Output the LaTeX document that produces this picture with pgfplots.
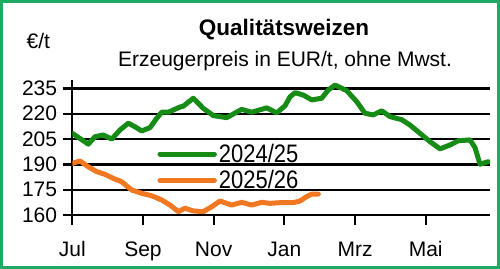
\documentclass[border=0pt]{standalone}
\usepackage{pgfplots}
\pgfplotsset{compat=1.18}
\usepackage{fontspec}
\setmainfont{Liberation Sans}
\definecolor{frame}{RGB}{30,170,100}
\definecolor{gline}{RGB}{22,140,22}
\definecolor{oline}{RGB}{240,120,32}
\begin{document}
\begin{tikzpicture}
\useasboundingbox (0,0) rectangle (500bp,-269bp);
\fill[white] (0,0) rectangle (500bp,-269bp);
\draw[frame, line width=3bp] (1.5bp,-1.5bp) rectangle (498.5bp,-267.5bp);
\node[anchor=base, inner sep=0pt, font=\fontsize{21bp}{25bp}\selectfont] at (38.3bp,-48.3bp) {€/t};
\node[anchor=base, inner sep=0pt, font=\fontsize{22.5bp}{27bp}\selectfont\bfseries] at (284bp,-35bp) {Qualitätsweizen};
\node[anchor=base, inner sep=0pt, font=\fontsize{21bp}{25bp}\selectfont] at (285bp,-66.7bp) {Erzeugerpreis in EUR/t, ohne Mwst.};
\begin{axis}[
  at={(72.3bp,-215bp)}, anchor=south west,
  scale only axis, width=417.7bp, height=135bp,
  xmin=0, xmax=11.82, ymin=160, ymax=240,
  axis x line*=bottom, axis y line*=left,
  axis line style={-, black, line width=2.3bp},
  xtick={0,2,4,6,8,10},
  xticklabels={Jul,Sep,Nov,Jan,Mrz,Mai},
  ytick={160,175,190,205,220,235},
  ymajorgrids,
  grid style={black, line width=2.3bp},
  tick align=outside,
  major tick length=9.5bp,
  tick style={black, line width=2.3bp},
  /pgf/number format/assume math mode=true,
  tick label style={font=\fontsize{21bp}{25bp}\selectfont, inner sep=0pt},
  yticklabel style={anchor=east, xshift=-5.5bp},
  xticklabel style={anchor=base, yshift=-32bp},
  legend style={at={(axis cs:2.405,203.3)}, anchor=north west, draw=none, fill=none,
     inner sep=0pt, row sep=2.6bp, cells={anchor=west},
     font=\fontsize{22bp}{26bp}\selectfont},
  legend image code/.code={\draw[#1, line width=5bp, line cap=round] (2.5bp,0bp) -- (56.9bp,0bp);},
  every axis plot/.append style={line width=5bp, line join=round, line cap=round},
]
\addplot[gline] coordinates {
(0,208.4) (0.453,202) (0.642,206.4) (0.877,207.4) (1.115,205) (1.350,210.4)
(1.585,214.4) (1.774,212.3) (1.964,209.8) (2.199,211.8) (2.388,217.3) (2.530,220.9)
(2.716,220.9) (3.048,224) (3.141,224.5) (3.424,229.2) (3.707,223.2) (3.990,218.9)
(4.369,217.7) (4.793,222.6) (5.076,220.9) (5.501,223.5) (5.784,220.5) (6.019,224.7)
(6.160,230) (6.302,232.5) (6.536,231.1) (6.774,228.2) (7.057,229.2) (7.244,234.1)
(7.434,237) (7.765,233.7) (8.048,227.2) (8.282,220.3) (8.517,219.3) (8.755,221.8)
(8.990,218.3) (9.321,216.5) (9.556,213.3) (9.839,208.4) (10.122,203.5) (10.405,199.2)
(10.688,201.5) (10.923,204) (11.254,204.5) (11.395,200) (11.537,190.1) (11.771,191.6)
};
\addlegendentry{\scalebox{1}[1.15]{2024/25}}
\addplot[oline] coordinates {
(0,190.6) (0.218,192) (0.453,188.6) (0.690,185.7) (0.925,184.1) (1.160,181.7)
(1.398,179.7) (1.681,174.8) (1.964,172.9) (2.247,171.4) (2.530,168.9) (2.765,165.9)
(3.000,162) (3.189,164) (3.424,162.4) (3.707,162) (3.945,164.9) (4.179,168.3)
(4.510,165.9) (4.793,167.5) (5.076,165.9) (5.359,167.5) (5.594,166.9) (5.877,167.3)
(6.253,167.3) (6.443,168.3) (6.633,170.9) (6.774,172.4) (6.961,172.4)
};
\addlegendentry{\scalebox{1}[1.15]{2025/26}}
\end{axis}
\end{tikzpicture}
\end{document}
